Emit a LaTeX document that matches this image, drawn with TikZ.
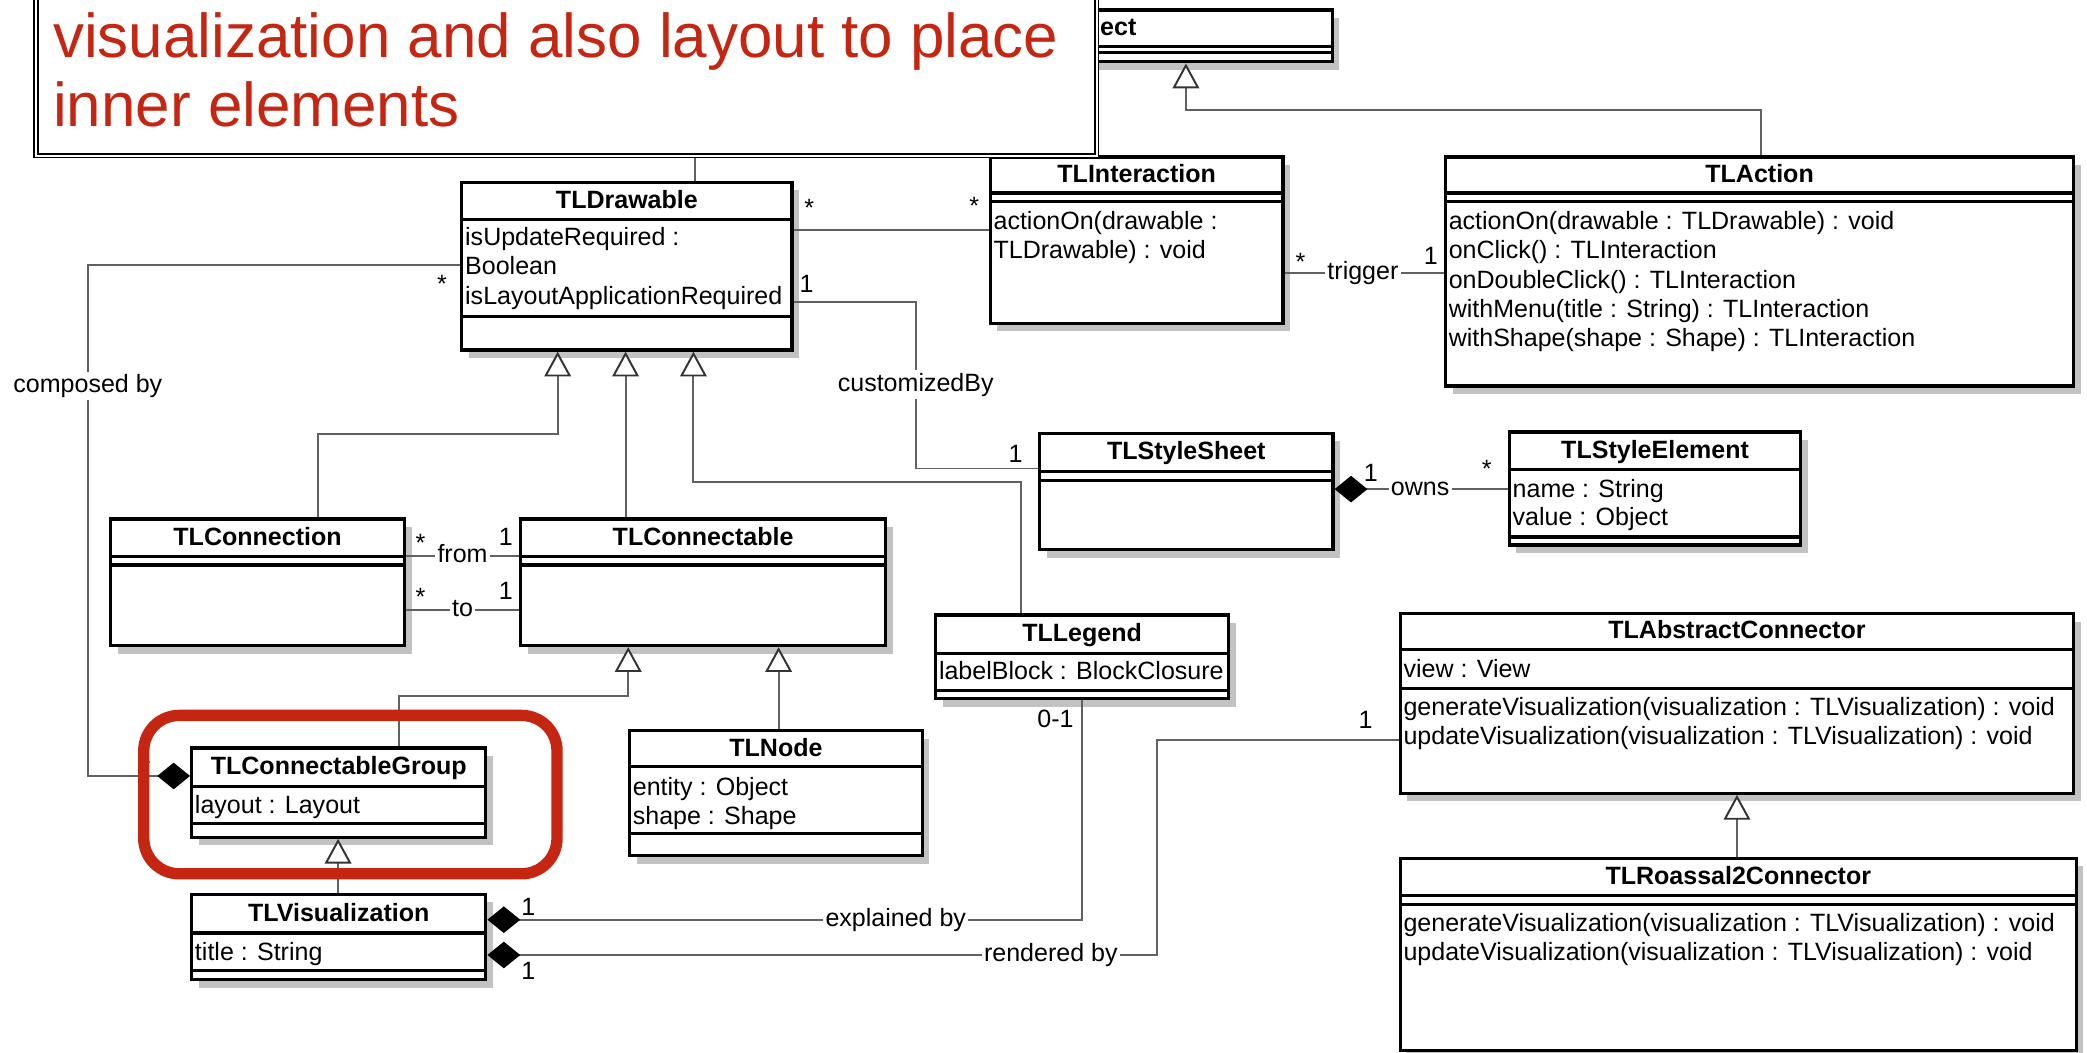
\documentclass[tikz,border=0pt]{standalone}
\usepackage{fontspec}
\setmainfont{Liberation Sans}
\usetikzlibrary{arrows.meta,fit,shadows}

\definecolor{calloutred}{RGB}{196,38,18}
\newcommand{\umlfont}{\fontsize{14.1}{16.5}\selectfont}

\tikzset{every picture/.style={line width=0.75pt}}
\tikzset{
	umlbox/.style={draw, line width=1.8pt, fill=white, inner sep=0pt, drop shadow={shadow xshift=4pt, shadow yshift=-4.5pt, opacity=1, fill=black!24}},
	umlsep/.style={line width=1.8pt},
	umltitle/.style={anchor=base, inner sep=0pt, font=\umlfont\bfseries},
	umlattr/.style={anchor=base west, inner sep=0pt, xshift=2.4pt, font=\umlfont},
	conn/.style={draw=black!62, line width=1.1pt},
	gen/.style={conn, -{Triangle[length=14pt, width=15pt, color=black!80, fill=white]}},
	comp/.style={conn, {Diamond[length=18.5pt, width=15pt, color=black]}-},
	asslabel/.style={fill=white, inner sep=1.2pt, text height=10.5pt, text depth=3.2pt, font=\umlfont},
	mult/.style={anchor=base, inner sep=0pt, font=\umlfont},
	hilite/.style={draw=calloutred, line width=6.4pt, rounded corners=20pt, inner sep=0pt},
	callout/.style={draw, line width=0.9pt, double, double distance=1.1pt, fill=white, inner sep=0pt},
}

\begin{document}
\begin{tikzpicture}[x=0.75pt,y=0.75pt,yscale=-1,xscale=1]
		\useasboundingbox (0,0) rectangle (1568,791);

		%Class: TLObject
		\node[umlbox, fit={(625,7.5) (1001,46.5)}] (obj) {};
		\draw[umlsep] (obj.west |- 0,35) -- (obj.east |- 0,35);
		\draw[umlsep] (obj.west |- 0,39.5) -- (obj.east |- 0,39.5);
		\node[umltitle] (obj-t) at (obj.north |- 0,26.5) {TLObject};

		%Class: TLInteraction
		\node[umlbox, fit={(744,118) (964,243)}] (inter) {};
		\draw[umlsep] (inter.west |- 0,145) -- (inter.east |- 0,145);
		\draw[umlsep] (inter.west |- 0,151.5) -- (inter.east |- 0,151.5);
		\node[umltitle] (inter-t) at (inter.north |- 0,137) {TLInteraction};
		\node[umlattr] (inter-m1) at (inter.west |- 0,172.5) {actionOn(drawable :};
		\node[umlattr] (inter-m2) at (inter.west |- 0,194.5) {TLDrawable) : void};

		%Class: TLAction
		\node[umlbox, fit={(1086,118) (1558,290)}] (action) {};
		\draw[umlsep] (action.west |- 0,145) -- (action.east |- 0,145);
		\draw[umlsep] (action.west |- 0,151.5) -- (action.east |- 0,151.5);
		\node[umltitle] (action-t) at (action.north |- 0,137) {TLAction};
		\node[umlattr] (action-m1) at (action.west |- 0,172.5) {actionOn(drawable : TLDrawable) : void};
		\node[umlattr] (action-m2) at (action.west |- 0,194.5) {onClick() : TLInteraction};
		\node[umlattr] (action-m3) at (action.west |- 0,216.5) {onDoubleClick() : TLInteraction};
		\node[umlattr] (action-m4) at (action.west |- 0,238.5) {withMenu(title : String) : TLInteraction};
		\node[umlattr] (action-m5) at (action.west |- 0,260.5) {withShape(shape : Shape) : TLInteraction};

		%Class: TLDrawable
		\node[umlbox, fit={(347,137) (595,263)}] (drawable) {};
		\draw[umlsep] (drawable.west |- 0,165) -- (drawable.east |- 0,165);
		\draw[umlsep] (drawable.west |- 0,238) -- (drawable.east |- 0,238);
		\node[umltitle] (drawable-t) at (drawable.north |- 0,156.5) {TLDrawable};
		\node[umlattr] (drawable-a1) at (drawable.west |- 0,184.5) {isUpdateRequired :};
		\node[umlattr] (drawable-a2) at (drawable.west |- 0,206.5) {Boolean};
		\node[umlattr] (drawable-a3) at (drawable.west |- 0,228.5) {isLayoutApplicationRequired};

		%Class: TLConnection
		\node[umlbox, fit={(83,390) (304,485)}] (connection) {};
		\draw[umlsep] (connection.west |- 0,418) -- (connection.east |- 0,418);
		\draw[umlsep] (connection.west |- 0,424.5) -- (connection.east |- 0,424.5);
		\node[umltitle] (connection-t) at (connection.north |- 0,409.5) {TLConnection};

		%Class: TLConnectable
		\node[umlbox, fit={(391,390) (665.5,485)}] (connectable) {};
		\draw[umlsep] (connectable.west |- 0,418) -- (connectable.east |- 0,418);
		\draw[umlsep] (connectable.west |- 0,424.5) -- (connectable.east |- 0,424.5);
		\node[umltitle] (connectable-t) at (connectable.north |- 0,409.5) {TLConnectable};

		%Class: TLStyleSheet
		\node[umlbox, fit={(781,325.5) (1001.5,413)}] (stylesheet) {};
		\draw[umlsep] (stylesheet.west |- 0,354) -- (stylesheet.east |- 0,354);
		\draw[umlsep] (stylesheet.west |- 0,361) -- (stylesheet.east |- 0,361);
		\node[umltitle] (stylesheet-t) at (stylesheet.north |- 0,345.5) {TLStyleSheet};

		%Class: TLStyleElement
		\node[umlbox, fit={(1134,324.5) (1353,409.5)}] (styleelement) {};
		\draw[umlsep] (styleelement.west |- 0,353) -- (styleelement.east |- 0,353);
		\draw[umlsep] (styleelement.west |- 0,403.5) -- (styleelement.east |- 0,403.5);
		\node[umltitle] (styleelement-t) at (styleelement.north |- 0,344.5) {TLStyleElement};
		\node[umlattr] (styleelement-a1) at (styleelement.west |- 0,373.5) {name : String};
		\node[umlattr] (styleelement-a2) at (styleelement.west |- 0,394.5) {value : Object};

		%Class: TLLegend
		\node[umlbox, fit={(703,462) (923,525)}] (legend) {};
		\draw[umlsep] (legend.west |- 0,491) -- (legend.east |- 0,491);
		\draw[umlsep] (legend.west |- 0,519) -- (legend.east |- 0,519);
		\node[umltitle] (legend-t) at (legend.north |- 0,482) {TLLegend};
		\node[umlattr] (legend-a1) at (legend.west |- 0,510.5) {labelBlock : BlockClosure};

		%Class: TLAbstractConnector
		\node[umlbox, fit={(1052,461) (1558,596)}] (absconn) {};
		\draw[umlsep] (absconn.west |- 0,488) -- (absconn.east |- 0,488);
		\draw[umlsep] (absconn.west |- 0,517) -- (absconn.east |- 0,517);
		\node[umltitle] (absconn-t) at (absconn.north |- 0,480) {TLAbstractConnector};
		\node[umlattr] (absconn-a1) at (absconn.west |- 0,509) {view : View};
		\node[umlattr] (absconn-m1) at (absconn.west |- 0,537.5) {generateVisualization(visualization : TLVisualization) : void};
		\node[umlattr] (absconn-m2) at (absconn.west |- 0,559.5) {updateVisualization(visualization : TLVisualization) : void};

		%Class: TLConnectableGroup
		\node[umlbox, fit={(144,562) (365,629)}] (group) {};
		\draw[umlsep] (group.west |- 0,591) -- (group.east |- 0,591);
		\draw[umlsep] (group.west |- 0,619) -- (group.east |- 0,619);
		\node[umltitle] (group-t) at (group.north |- 0,582) {TLConnectableGroup};
		\node[umlattr] (group-a1) at (group.west |- 0,611.5) {layout : Layout};

		%Class: TLNode
		\node[umlbox, fit={(473,549) (693,643)}] (tlnode) {};
		\draw[umlsep] (tlnode.west |- 0,576) -- (tlnode.east |- 0,576);
		\draw[umlsep] (tlnode.west |- 0,626.5) -- (tlnode.east |- 0,626.5);
		\node[umltitle] (tlnode-t) at (tlnode.north |- 0,568) {TLNode};
		\node[umlattr] (tlnode-a1) at (tlnode.west |- 0,597.5) {entity : Object};
		\node[umlattr] (tlnode-a2) at (tlnode.west |- 0,619.5) {shape : Shape};

		%Class: TLVisualization
		\node[umlbox, fit={(144,672) (365,736)}] (visu) {};
		\draw[umlsep] (visu.west |- 0,701) -- (visu.east |- 0,701);
		\draw[umlsep] (visu.west |- 0,729) -- (visu.east |- 0,729);
		\node[umltitle] (visu-t) at (visu.north |- 0,692) {TLVisualization};
		\node[umlattr] (visu-a1) at (visu.west |- 0,721.5) {title : String};

		%Class: TLRoassal2Connector
		\node[umlbox, fit={(1052,645) (1560,789)}] (roassal) {};
		\draw[umlsep] (roassal.west |- 0,673) -- (roassal.east |- 0,673);
		\draw[umlsep] (roassal.west |- 0,679.5) -- (roassal.east |- 0,679.5);
		\node[umltitle] (roassal-t) at (roassal.north |- 0,664.5) {TLRoassal2Connector};
		\node[umlattr] (roassal-m1) at (roassal.west |- 0,699.5) {generateVisualization(visualization : TLVisualization) : void};
		\node[umlattr] (roassal-m2) at (roassal.west |- 0,721.5) {updateVisualization(visualization : TLVisualization) : void};

		%Generalizations
		\coordinate (objjoin) at (522,70);
		\draw[conn] (drawable.north -| 522,0) -- (objjoin);
		\draw[gen] (action.north -| 1323,0) |- (891,83) -- (obj.south -| 891,0);
		\draw[gen] (connection.north -| 239,0) |- (419,326) -- (drawable.south -| 419,0);
		\draw[gen] (connectable.north -| 470,0) -- (drawable.south -| 470,0);
		\draw[gen] (legend.north -| 767,0) |- (521,362) -- (drawable.south -| 521,0);
		\draw[gen] (group.north -| 300,0) |- (472,523) -- (connectable.south -| 472,0);
		\draw[gen] (tlnode.north -| 585,0) -- (connectable.south -| 585,0);
		\draw[gen] (visu.north -| 254,0) -- (group.south -| 254,0);
		\draw[gen] (roassal.north -| 1305,0) -- (absconn.south -| 1305,0);

		%Associations
		\draw[conn] (drawable.east |- 0,173) -- (inter.west |- 0,173);
		\node[mult] (m-di1) at (608,163) {*};
		\node[mult] (m-di2) at (732,161) {*};

		\draw[conn] (inter.east |- 0,205) -- (action.west |- 0,205);
		\node[asslabel] (lbl-trigger) at (1024,205) {trigger};
		\node[mult] (m-ia1) at (977,203) {*};
		\node[mult] (m-ia2) at (1075,198.7) {1};

		\draw[comp] (group.west |- 0,583) -| (66,199) -- (drawable.west |- 0,199);
		\node[asslabel] (lbl-composed) at (66,290) {composed by};
		\node[mult] (m-dg1) at (332,220) {*};
		\node[mult] (m-dg2) at (108,573.7) {1};

		\draw[conn] (drawable.east |- 0,227) -| (688,352) -- (stylesheet.west |- 0,352);
		\node[asslabel] (lbl-custom) at (688,289) {customizedBy};
		\node[mult] (m-ds1) at (606,219.7) {1};
		\node[mult] (m-ds2) at (763,347.7) {1};

		\draw[comp] (stylesheet.east |- 0,367.5) -- (styleelement.west |- 0,367.5);
		\node[asslabel] (lbl-owns) at (1067,367.5) {owns};
		\node[mult] (m-se1) at (1030,361.7) {1};
		\node[mult] (m-se2) at (1117,359) {*};

		\draw[conn] (connection.east |- 0,418) -- (connectable.west |- 0,418);
		\node[asslabel] (lbl-from) at (347.5,418) {from};
		\node[mult] (m-cf1) at (316,414) {*};
		\node[mult] (m-cf2) at (380,409.7) {1};

		\draw[conn] (connection.east |- 0,458) -- (connectable.west |- 0,458);
		\node[asslabel] (lbl-to) at (347.5,458) {to};
		\node[mult] (m-ct1) at (316,455) {*};
		\node[mult] (m-ct2) at (380,450.7) {1};

		\draw[comp] (visu.east |- 0,691) -| (legend.south -| 813,0);
		\node[asslabel] (lbl-explained) at (673,691) {explained by};
		\node[mult] (m-vl1) at (397,687.7) {1};
		\node[mult] (m-vl2) at (793,546.7) {0-1};

		\draw[comp] (visu.east |- 0,717.5) -| (869,556) -- (absconn.west |- 0,556);
		\node[asslabel] (lbl-rendered) at (789.5,717.5) {rendered by};
		\node[mult] (m-va1) at (397,735.7) {1};
		\node[mult] (m-va2) at (1026,547.7) {1};

		%Highlight round TLConnectableGroup
		\node[hilite, fit={(108,537.5) (418.5,656.5)}] (grouphl) {};

		%Callout
		\node[callout, fit={(27,-20) (824,117)}] (note) {};
		\node[anchor=base west, inner sep=0pt, text=calloutred, font=\fontsize{34.9}{39}\selectfont] (note-l1) at (39.5,43) {visualization and also layout to place};
		\node[anchor=base west, inner sep=0pt, text=calloutred, font=\fontsize{34.9}{39}\selectfont] (note-l2) at (39.5,95) {inner elements};

\end{tikzpicture}
\end{document}
